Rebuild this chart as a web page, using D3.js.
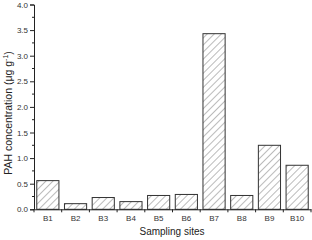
<!DOCTYPE html>
<html><head><meta charset="utf-8">
<script src="https://cdn.jsdelivr.net/npm/d3@7"></script>
<style>body{margin:0;background:#fff}svg{display:block}</style>
</head><body><svg id="c" width="312" height="240"></svg>
<script>
const sites = ["B1","B2","B3","B4","B5","B6","B7","B8","B9","B10"];
const pah = [0.56, 0.11, 0.23, 0.15, 0.27, 0.29, 3.43, 0.27, 1.25, 0.86];
const yTicks = [0.0, 0.5, 1.0, 1.5, 2.0, 2.5, 3.0, 3.5, 4.0];
const yMinor = [0.25, 0.75, 1.25, 1.75, 2.25, 2.75, 3.25, 3.75];

const svg = d3.select("#c");
const L = 34, R = 311, T = 4.5, B = 209.3;
const x = d3.scaleBand().domain(sites).range([L, R]).paddingInner(0.2).paddingOuter(0.1);
const y = d3.scaleLinear().domain([0, 4]).range([B, T]);

const defs = svg.append("defs");
const pat = defs.append("pattern").attr("id","hatch").attr("patternUnits","userSpaceOnUse")
  .attr("width",5).attr("height",5).attr("patternTransform","rotate(45)");
pat.append("line").attr("x1",0).attr("y1",0).attr("x2",0).attr("y2",5)
  .attr("stroke","#555").attr("stroke-width",0.8);

svg.append("g").selectAll("rect").data(pah).join("rect")
  .attr("x",(d,i)=>x(sites[i])).attr("width",x.bandwidth())
  .attr("y",d=>y(d)).attr("height",d=>B-y(d))
  .attr("fill","url(#hatch)").attr("stroke","#333").attr("stroke-width",1);

const font = "Arial, 'Liberation Sans', sans-serif";
// y axis
const ya = svg.append("g").attr("transform",`translate(${L},0)`)
  .call(d3.axisLeft(y).tickValues(yTicks).tickFormat(d3.format(".1f")).tickSize(4).tickPadding(2));
ya.selectAll("text").attr("font-family",font).attr("font-size",8).attr("fill","#333");
ya.select(".domain").attr("stroke","#222");
ya.selectAll(".tick line").attr("stroke","#222");
svg.append("g").selectAll("line").data(yMinor).join("line")
  .attr("x1",L-2).attr("x2",L).attr("y1",d=>y(d)).attr("y2",d=>y(d)).attr("stroke","#222");

// x axis
const xa = svg.append("g").attr("transform",`translate(0,${B})`)
  .call(d3.axisBottom(x).tickSize(0).tickPadding(6));
xa.selectAll("text").attr("font-family",font).attr("font-size",8).attr("fill","#333");
xa.select(".domain").attr("stroke","#222");
const bnd = d3.range(sites.length+1).map(i => L + i*(R-L)/sites.length);
svg.append("g").selectAll("line").data(bnd).join("line")
  .attr("x1",d=>d).attr("x2",d=>d).attr("y1",B).attr("y2",B+3).attr("stroke","#222");

svg.append("text").attr("x",172).attr("y",235).attr("text-anchor","middle")
  .attr("font-family",font).attr("font-size",10).attr("fill","#222").text("Sampling sites");

const yt = svg.append("text").attr("transform",`translate(12,113) rotate(-90)`)
  .attr("text-anchor","middle").attr("font-family",font).attr("font-size",10.5).attr("fill","#222");
yt.append("tspan").text("PAH concentration (μg g");
yt.append("tspan").attr("dy",-4).attr("font-size",7).text("-1");
yt.append("tspan").attr("dy",4).text(")");
</script></body></html>
